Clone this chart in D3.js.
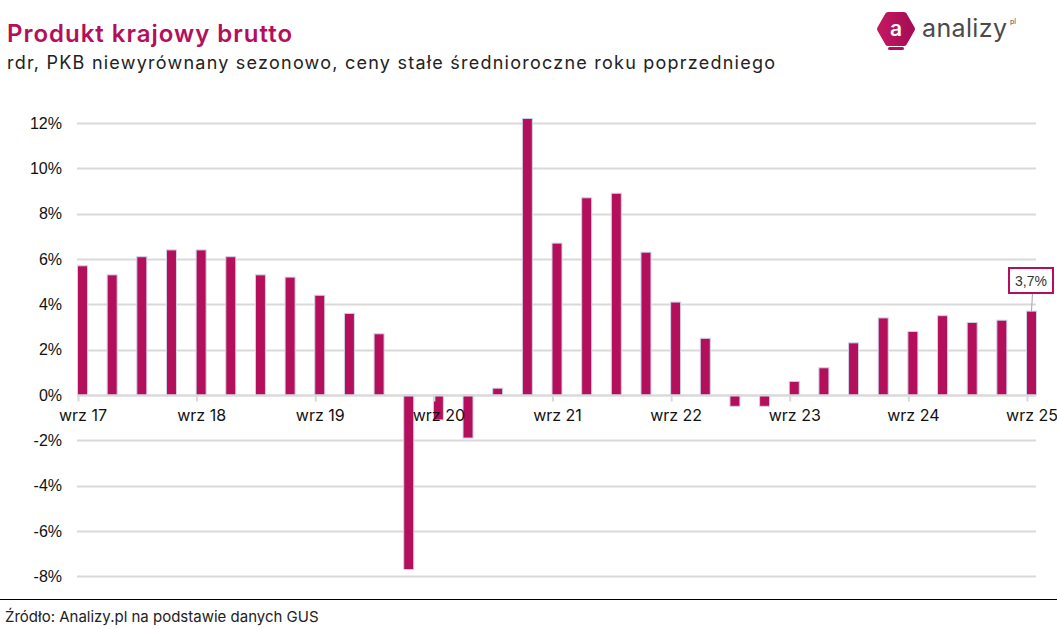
<!DOCTYPE html>
<html>
<head>
<meta charset="utf-8">
<script src="https://cdnjs.cloudflare.com/ajax/libs/d3/7.8.5/d3.min.js"></script>
<style>
  body { margin: 0; background: #fff; }
  svg { display: block; }
</style>
</head>
<body>
<div id="chart-area"></div>
<script>
// kwartały (koniec kwartału) i dynamika PKB r/r w %
const quarters = [
  "wrz 17","gru 17","mar 18","cze 18","wrz 18","gru 18","mar 19","cze 19",
  "wrz 19","gru 19","mar 20","cze 20","wrz 20","gru 20","mar 21","cze 21",
  "wrz 21","gru 21","mar 22","cze 22","wrz 22","gru 22","mar 23","cze 23",
  "wrz 23","gru 23","mar 24","cze 24","wrz 24","gru 24","mar 25","cze 25",
  "wrz 25"
]
const gdpYoY = [
  5.7, 5.3, 6.1, 6.4, 6.4, 6.1, 5.3, 5.2,
  4.4, 3.6, 2.7, -7.7, -1.1, -1.9, 0.3, 12.2,
  6.7, 8.7, 8.9, 6.3, 4.1, 2.5, -0.5, -0.5,
  0.6, 1.2, 2.3, 3.4, 2.8, 3.5, 3.2, 3.3,
  3.7
]
const yTicks = [-8, -6, -4, -2, 0, 2, 4, 6, 8, 10, 12]

const data = quarters.map((q, i) => ({q: q, v: gdpYoY[i]}))

const W = 1057, H = 629
const MAGENTA = "#b40f5b"
const GRID = "#d9d9d9"
const SANS = "Inter"

const svg = d3.select("#chart-area").append("svg")
	.attr("width", W)
	.attr("height", H)

// tytuł
svg.append("text")
	.attr("x", 7)
	.attr("y", 42)
	.attr("font-family", SANS)
	.attr("font-weight", 600)
	.attr("font-size", "24px")
	.attr("textLength", 285)
	.attr("fill", MAGENTA)
	.text("Produkt krajowy brutto")

svg.append("text")
	.attr("x", 7)
	.attr("y", 69)
	.attr("font-family", SANS)
	.attr("font-size", "18px")
	.attr("textLength", 768)
	.attr("fill", "#222")
	.text("rdr, PKB niewyrównany sezonowo, ceny stałe średnioroczne roku poprzedniego")

// logo
const grad = svg.append("defs").append("linearGradient")
	.attr("id", "logoGrad").attr("x1", 0).attr("x2", 1).attr("y1", 0).attr("y2", 0)
grad.append("stop").attr("offset", "0%").attr("stop-color", "#c2185f")
grad.append("stop").attr("offset", "100%").attr("stop-color", "#a50d55")

const logo = svg.append("g").attr("transform", "translate(896,29)")
logo.append("path")
	.attr("d", "M-16,0 L-8,-14 L8,-14 L16,0 L8,14 L-8,14 Z")
	.attr("fill", "url(#logoGrad)")
	.attr("stroke", "url(#logoGrad)")
	.attr("stroke-width", 6)
	.attr("stroke-linejoin", "round")
logo.append("rect")
	.attr("x", -8).attr("y", 18).attr("width", 16).attr("height", 3).attr("rx", 1.5)
	.attr("fill", MAGENTA)
logo.append("text")
	.attr("x", 0).attr("y", 7)
	.attr("text-anchor", "middle")
	.attr("font-family", SANS)
	.attr("font-weight", 600)
	.attr("font-size", "21px")
	.attr("fill", "#fff")
	.text("a")
svg.append("text")
	.attr("x", 922).attr("y", 37)
	.attr("font-family", SANS)
	.attr("font-weight", 400)
	.attr("font-size", "25px")
	.attr("textLength", 85)
	.attr("fill", "#4a4a4a")
	.text("analizy")
svg.append("text")
	.attr("x", 1010).attr("y", 24)
	.attr("font-family", SANS)
	.attr("font-size", "7px")
	.attr("fill", "#4a4a4a")
	.text("pl")

// skale
const x = d3.scalePoint()
	.domain(quarters)
	.range([82.5, 1031.5])

const y = d3.scaleLinear()
	.domain([-8, 12])
	.range([576.3, 123])

const BAR_W = 10

// siatka
svg.append("g")
	.selectAll("line")
	.data(yTicks)
	.enter().append("line")
	.attr("x1", 77)
	.attr("x2", 1036)
	.attr("y1", d => Math.round(y(d)) + 0.5)
	.attr("y2", d => Math.round(y(d)) + 0.5)
	.attr("stroke", GRID)
	.attr("stroke-width", 2)

// oś Y
const yAxisGroup = svg.append("g")
	.attr("transform", "translate(62,0)")
	.call(d3.axisLeft(y).tickValues(yTicks).tickSize(0).tickPadding(0).tickFormat(d => d + "%"))
yAxisGroup.select(".domain").remove()
yAxisGroup.selectAll("text")
	.attr("font-family", "Liberation Sans")
	.attr("font-size", "16px")
	.attr("fill", "#111")

// słupki
svg.append("g")
	.selectAll("rect")
	.data(data)
	.enter().append("rect")
	.attr("x", d => x(d.q) - BAR_W / 2)
	.attr("width", BAR_W)
	.attr("y", d => y(Math.max(0, d.v)))
	.attr("height", d => Math.abs(y(d.v) - y(0)))
	.attr("fill", MAGENTA)
	.attr("stroke", "#cdd3ec")
	.attr("stroke-width", 1)

// oś X na poziomie zera
const xAxisCall = d3.axisBottom(x)
	.tickValues(quarters.filter(q => q.startsWith("wrz")))
	.tickSize(6)
	.tickPadding(8)
const xAxisGroup = svg.append("g")
	.attr("transform", `translate(0,${Math.round(y(0)) + 0.5})`)
	.call(xAxisCall)
xAxisGroup.select(".domain")
	.attr("d", "M77,0H1036")
	.attr("stroke", GRID)
	.attr("stroke-width", 2)
xAxisGroup.selectAll(".tick line")
	.attr("x1", -4.5).attr("x2", -4.5)
	.attr("stroke", GRID)
	.attr("stroke-width", 2)
xAxisGroup.selectAll(".tick text")
	.attr("font-family", SANS)
	.attr("font-size", "16px")
	.attr("fill", "#111")

// etykieta ostatniej wartości
const last = data[data.length - 1]
const lx = x(last.q)
const ann = svg.append("g")
ann.append("line")
	.attr("x1", lx + 1).attr("y1", 293)
	.attr("x2", lx).attr("y2", y(last.v))
	.attr("stroke", "#a6a6a6")
	.attr("stroke-width", 1)
ann.append("rect")
	.attr("x", 1009).attr("y", 268)
	.attr("width", 44).attr("height", 25)
	.attr("fill", "#fff")
	.attr("stroke", MAGENTA)
	.attr("stroke-width", 2)
ann.append("text")
	.attr("x", 1031).attr("y", 286)
	.attr("text-anchor", "middle")
	.attr("font-family", "Liberation Sans")
	.attr("font-size", "14px")
	.attr("fill", "#333")
	.text(String(last.v).replace(".", ",") + "%")

// stopka
svg.append("line")
	.attr("x1", 0).attr("x2", W)
	.attr("y1", 599.5).attr("y2", 599.5)
	.attr("stroke", "#000")
	.attr("stroke-width", 1)
svg.append("text")
	.attr("x", 5).attr("y", 622)
	.attr("font-family", SANS)
	.attr("font-size", "15px")
	.attr("fill", "#222")
	.text("Źródło: Analizy.pl na podstawie danych GUS")
</script>
</body>
</html>
